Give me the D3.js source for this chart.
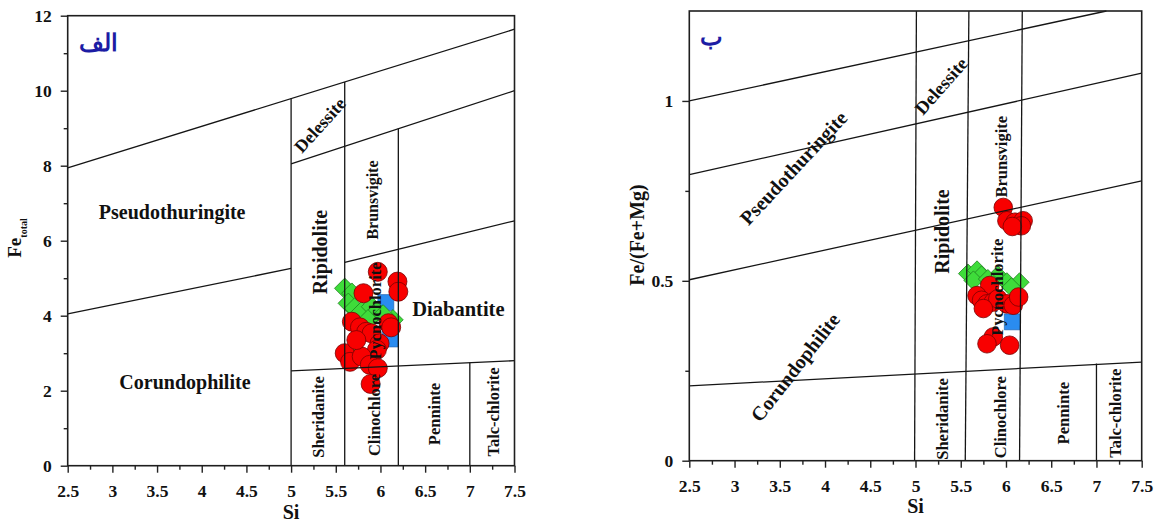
<!DOCTYPE html>
<html><head><meta charset="utf-8">
<script src="https://cdn.jsdelivr.net/npm/d3@7/dist/d3.min.js"></script>
<style>
body{margin:0;background:#fff}
svg{display:block}
text{font-family:"Liberation Serif","Times New Roman",serif;font-weight:bold;fill:#111}
</style>
</head><body>
<svg id="c" width="1163" height="522"></svg>
<script>
// ---------- data ----------
const xTickValues = [2.5, 3, 3.5, 4, 4.5, 5, 5.5, 6, 6.5, 7, 7.5];
const xMinorValues = [2.75, 3.25, 3.75, 4.25, 4.75, 5.25, 5.75, 6.25, 6.75, 7.25];
const leftYTicks = [0, 2, 4, 6, 8, 10, 12];
const leftYMinor = [1, 3, 5, 7, 9, 11];
const rightYTicks = [0, 0.5, 1];
const rightYMinor = [0.25, 0.75];

// Left panel (Si vs Fe total)
const leftRed = [[5.97,5.17],[6.19,4.91],[6.20,4.64],[5.81,4.60],[5.68,3.84],[5.77,3.69],[5.84,3.57],[5.90,3.53],[6.09,3.80],[6.12,3.69],[5.99,3.26],[5.96,3.09],[5.60,3.00],[5.66,2.77],[5.79,2.91],[5.88,2.69],[5.97,2.60],[5.89,2.18],[5.73,3.35]];
const leftGreen = [[5.60,4.73],[5.68,4.60],[5.64,4.33],[5.71,4.20],[5.79,4.11],[5.90,4.24],[5.96,4.11],[6.14,3.89],[6.03,4.02],[5.71,3.09],[5.86,3.89]];
const leftBlue = [[6.06,4.35],[6.09,3.85],[6.11,3.38]];

// Right panel (Si vs Fe/(Fe+Mg))
const rightRed = [[5.97,0.704],[6.01,0.667],[6.10,0.663],[6.19,0.667],[6.17,0.653],[6.07,0.651],[5.82,0.487],[5.68,0.459],[5.73,0.446],[5.79,0.436],[5.86,0.441],[5.91,0.450],[6.01,0.436],[6.08,0.432],[6.14,0.455],[5.75,0.423],[5.86,0.344],[5.79,0.325],[6.04,0.321]];
const rightGreen = [[5.58,0.520],[5.68,0.529],[5.73,0.515],[5.64,0.501],[5.91,0.515],[6.01,0.496],[6.15,0.496],[6.06,0.482],[5.80,0.505]];
const rightBlue = [[6.07,0.386]];

// Classification field boundaries (Si, value)
const leftBoundaries = [
  [[2.5,7.94],[7.5,11.64]],
  [[5,8.05],[7.5,10.0]],
  [[2.5,4.05],[5,5.26]],
  [[5.6,5.42],[7.5,6.53]],
  [[5,2.53],[7.5,2.80]],
  [[5,0],[5,9.79]],
  [[5.6,0],[5.6,10.23]],
  [[6.2,0],[6.2,8.99]],
  [[7,0],[7,2.75]]
];
const rightBoundaries = [
  [[2.5,1.0],[7.11,1.25]],
  [[2.5,0.795],[7.5,1.077]],
  [[2.5,0.503],[7.5,0.778]],
  [[2.5,0.208],[7.5,0.274]],
  [[4.99,0],[5.01,1.25]],
  [[5.55,0],[5.59,1.25]],
  [[6.15,0],[6.18,1.25]],
  [[7.0,0],[7.0,0.27]]
];

// Field names
const leftFieldNames = ["Pseudothuringite","Corundophilite","Diabantite","Ripidolite","Delessite","Brunsvigite","Pycnochlorite","Sheridanite","Clinochlore","Penninte","Talc-chlorite"];
const rightFieldNames = ["Pseudothuringite","Corundophilite","Ripidolite","Delessite","Brunsvigite","Pycnochlorite","Sheridanite","Clinochlore","Penninte","Talc-chlorite"];

// label layout (anchor in data units, angle, font size)
const leftLabelLayout = {
  "Pseudothuringite":[3.669,6.765,0,20],
  "Corundophilite":[3.812,2.232,0,20],
  "Diabantite":[6.872,4.179,0,20.5],
  "Ripidolite":[5.321,5.699,90,20],
  "Delessite":[5.321,9.085,48,18],
  "Brunsvigite":[5.908,7.085,90,16],
  "Pycnochlorite":[5.939,4.125,90,16.5],
  "Sheridanite":[5.309,1.299,90,16.5],
  "Clinochlore":[5.927,1.352,90,16.5],
  "Penninte":[6.601,1.379,90,16.5],
  "Talc-chlorite":[7.258,1.432,90,16.5]
};
const rightLabelLayout = {
  "Pseudothuringite":[3.651,0.814,47,20],
  "Corundophilite":[3.670,0.260,52,20],
  "Ripidolite":[5.294,0.637,90,20],
  "Delessite":[5.282,1.042,48.5,18.5],
  "Brunsvigite":[5.950,0.845,90,16.5],
  "Pycnochlorite":[5.906,0.482,90,16.5],
  "Sheridanite":[5.293,0.116,90,16.5],
  "Clinochlore":[5.931,0.121,90,16.5],
  "Penninte":[6.629,0.132,90,16.5],
  "Talc-chlorite":[7.205,0.132,90,16.5]
};

const svg = d3.select("#c");
svg.append("rect").attr("width",1163).attr("height",522).attr("fill","#fff");

function panel(cfg){
  const x = d3.scaleLinear().domain([2.5,7.5]).range(cfg.xr);
  const y = d3.scaleLinear().domain(cfg.yd).range(cfg.yr);
  const g = svg.append("g");
  const fmt = d3.format("");

  // markers
  g.append("g").selectAll("path").data(cfg.blue).join("path")
    .attr("d", d3.symbol(d3.symbolSquare, cfg.blueSide*cfg.blueSide)())
    .attr("transform", d=>`translate(${x(d[0])},${y(d[1])})`)
    .attr("fill","#2a8cf0").attr("stroke","#1a5aa8").attr("stroke-width",0.6);
  g.append("g").selectAll("path").data(cfg.green).join("path")
    .attr("d", d3.symbol(d3.symbolSquare, cfg.greenSide*cfg.greenSide)())
    .attr("transform", d=>`translate(${x(d[0])},${y(d[1])}) rotate(45)`)
    .attr("fill","#3edc3a").attr("stroke","#1f7a1f").attr("stroke-width",0.7);
  g.append("g").selectAll("circle").data(cfg.red).join("circle")
    .attr("cx", d=>x(d[0])).attr("cy", d=>y(d[1])).attr("r", cfg.r)
    .attr("fill","#f80000").attr("stroke","#7a0000").attr("stroke-width",0.8);

  // boundaries
  const line = d3.line().x(d=>x(d[0])).y(d=>y(d[1]));
  g.append("g").selectAll("path").data(cfg.bounds).join("path")
    .attr("d", line).attr("fill","none").attr("stroke","#151515").attr("stroke-width",1.3);

  // axes
  const xa = g.append("g").attr("transform",`translate(0,${cfg.yr[0]})`)
    .call(d3.axisBottom(x).tickValues(xTickValues).tickSize(7).tickPadding(12).tickFormat(fmt));
  const xm = g.append("g").attr("transform",`translate(0,${cfg.yr[0]})`)
    .call(d3.axisBottom(x).tickValues(xMinorValues).tickSize(4).tickFormat(""));
  const ya = g.append("g").attr("transform",`translate(${cfg.xr[0]},0)`)
    .call(d3.axisLeft(y).tickValues(cfg.yt).tickSize(7).tickPadding(9).tickFormat(fmt));
  const ym = g.append("g").attr("transform",`translate(${cfg.xr[0]},0)`)
    .call(d3.axisLeft(y).tickValues(cfg.ym).tickSize(4).tickFormat(""));
  [xa,xm,ya,ym].forEach(a=>{
    a.select(".domain").remove();
    a.selectAll("line").attr("stroke","#222").attr("stroke-width",1.4);
    a.selectAll("text").attr("font-size",17.5).attr("fill","#111");
  });

  // frame
  g.append("rect").attr("x",cfg.xr[0]).attr("y",cfg.yr[1])
    .attr("width",cfg.xr[1]-cfg.xr[0]).attr("height",cfg.yr[0]-cfg.yr[1])
    .attr("fill","none").attr("stroke","#1e1e1e").attr("stroke-width",1.6);

  // field labels
  g.append("g").selectAll("text").data(cfg.names).join("text")
    .attr("transform", d=>{const L=cfg.layout[d];return `translate(${x(L[0])},${y(L[1])}) rotate(${-L[2]})`;})
    .attr("text-anchor","middle").attr("dy","0.35em")
    .attr("font-size", d=>cfg.layout[d][3])
    .text(d=>d);

  // panel letter (Persian)
  g.append("text").attr("x",x(cfg.letterPos[0])).attr("y",y(cfg.letterPos[1]))
    .attr("text-anchor","middle").attr("dy","0.35em")
    .attr("font-size",cfg.letterSize).style("fill","#1c1ca4")
    .text(cfg.letter);

  // x title
  g.append("text").attr("x",x(5)).attr("y",cfg.yr[0]+cfg.siOff)
    .attr("text-anchor","middle").attr("dy","0.35em").attr("font-size",20).text("Si");
  return {x,y,g};
}

const L = panel({xr:[67.7,514.5], yr:[465.7,15.7], yd:[0,12], yt:leftYTicks, ym:leftYMinor,
  red:leftRed, green:leftGreen, blue:leftBlue, r:9.5, greenSide:14.5, blueSide:16,
  bounds:leftBoundaries, names:leftFieldNames, layout:leftLabelLayout,
  letter:"الف", letterPos:[2.85,11.27], letterSize:24, siOff:46});
const R = panel({xr:[689.3,1141.7], yr:[460.7,11], yd:[0,1.25], yt:rightYTicks, ym:rightYMinor,
  red:rightRed, green:rightGreen, blue:rightBlue, r:9.3, greenSide:13.5, blueSide:16,
  bounds:rightBoundaries, names:rightFieldNames, layout:rightLabelLayout,
  letter:"ب", letterPos:[2.74,1.18], letterSize:24, siOff:45});

// y titles
const ft = L.g.append("text").attr("transform","translate(15,238) rotate(-90)")
  .attr("text-anchor","middle").attr("dy","0.35em");
ft.append("tspan").attr("font-size",19).text("Fe");
ft.append("tspan").attr("font-size",10).attr("dy",6).text("total");

R.g.append("text").attr("transform","translate(637,235) rotate(-90)")
  .attr("text-anchor","middle").attr("dy","0.35em").attr("font-size",20).text("Fe/(Fe+Mg)");
</script>
</body></html>
